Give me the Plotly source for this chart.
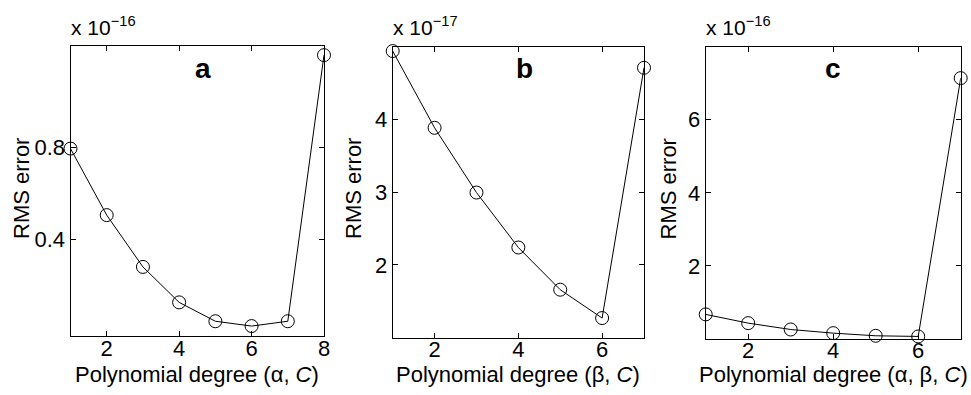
import plotly.graph_objects as go

# ---- data ----
deg_a = [1, 2, 3, 4, 5, 6, 7, 8]
rms_a = [0.795, 0.506, 0.281, 0.127, 0.045, 0.024, 0.045, 1.201]   # x 1e-16
deg_b = [1, 2, 3, 4, 5, 6, 7]
rms_b = [4.94, 3.885, 2.995, 2.24, 1.66, 1.27, 4.71]              # x 1e-17
deg_c = [1, 2, 3, 4, 5, 6, 7]
rms_c = [0.673, 0.434, 0.26, 0.16, 0.088, 0.07, 7.14]             # x 1e-16

ticks_x_a = [2, 4, 6, 8]
ticks_x_b = [2, 4, 6]
ticks_x_c = [2, 4, 6]
ticks_y_a = [0.4, 0.8]
ticks_y_b = [2, 3, 4]
ticks_y_c = [2, 4, 6]

panel_labels = ["a", "b", "c"]
multipliers = ["x 10<sup>\u221216</sup>", "x 10<sup>\u221217</sup>", "x 10<sup>\u221216</sup>"]
x_titles = ["Polynomial degree (\u03b1, <i>C</i>)",
            "Polynomial degree (\u03b2, <i>C</i>)",
            "Polynomial degree (\u03b1, \u03b2, <i>C</i>)"]
y_title = "RMS error"

W, H = 971, 395
FONT = "Liberation Sans, Arial, Helvetica, sans-serif"


def px(x):
    return x / W


def py(y):
    return 1 - y / H


# panel pixel boxes (left, right, top, bottom)
boxes = [(70.5, 324, 45.7, 336.2), (392.7, 644, 46.7, 337.7), (705.7, 960.7, 46.7, 339)]
xranges = [[1, 8], [1, 7], [1, 7]]
yranges = [[-0.02, 1.242], [1, 5], [0, 8]]
series = [(deg_a, rms_a), (deg_b, rms_b), (deg_c, rms_c)]
xt = [ticks_x_a, ticks_x_b, ticks_x_c]
yt = [ticks_y_a, ticks_y_b, ticks_y_c]
ytitle_x = [21, 353, 667.5]
label_x = [203, 524, 832.7]

fig = go.Figure()
layout = dict(
    width=W, height=H, margin=dict(l=0, r=0, t=0, b=0, autoexpand=False),
    paper_bgcolor="white", plot_bgcolor="white", showlegend=False,
    font=dict(family=FONT, size=22, color="black"),
)
annotations = []
for i, ((xs, ys), (l, r, t, b)) in enumerate(zip(series, boxes)):
    sfx = "" if i == 0 else str(i + 1)
    fig.add_trace(go.Scatter(
        x=xs, y=ys, mode="lines+markers", xaxis="x" + sfx, yaxis="y" + sfx,
        line=dict(color="black", width=1),
        marker=dict(symbol="circle-open", size=13, color="black", line=dict(width=1, color="black")),
        cliponaxis=False,
    ))
    axcommon = dict(showline=True, linecolor="black", linewidth=1, mirror="ticks",
                    ticks="inside", ticklen=5, tickwidth=1, tickcolor="black",
                    showgrid=False, zeroline=False, automargin=False,
                    tickfont=dict(size=22, family=FONT))
    layout["xaxis" + sfx] = dict(domain=[px(l), px(r)], range=xranges[i], tickvals=xt[i],
                                 anchor="y" + sfx, ticklabelstandoff=-8, **axcommon)
    layout["yaxis" + sfx] = dict(domain=[py(b), py(t)], range=yranges[i], tickvals=yt[i],
                                 anchor="x" + sfx, ticklabelstandoff=0, **axcommon)
    cx = (l + r) / 2
    # x title
    annotations.append(dict(text=x_titles[i], x=px(cx), y=py(374), xref="paper", yref="paper",
                            showarrow=False, xanchor="center", yanchor="middle",
                            font=dict(size=22, family=FONT)))
    # y title
    annotations.append(dict(text=y_title, x=px(ytitle_x[i]), y=py(189), xref="paper", yref="paper",
                            showarrow=False, textangle=-90, xanchor="center", yanchor="middle",
                            font=dict(size=22, family=FONT)))
    # multiplier
    annotations.append(dict(text=multipliers[i], x=px(l - 2), y=py(41), xref="paper", yref="paper",
                            showarrow=False, xanchor="left", yanchor="bottom",
                            font=dict(size=21, family=FONT)))
    # panel label
    annotations.append(dict(text="<b>" + panel_labels[i] + "</b>", x=px(label_x[i]),
                            y=py(68), xref="paper", yref="paper",
                            showarrow=False, xanchor="center", yanchor="middle",
                            font=dict(size=28, family=FONT)))

layout["annotations"] = annotations
fig.update_layout(**layout)
fig.write_html(
    "out.html",
    config={"displayModeBar": False},
    post_script="document.body.style.margin='0';document.body.style.overflow='hidden';"
                "document.documentElement.style.overflow='hidden';",
)
